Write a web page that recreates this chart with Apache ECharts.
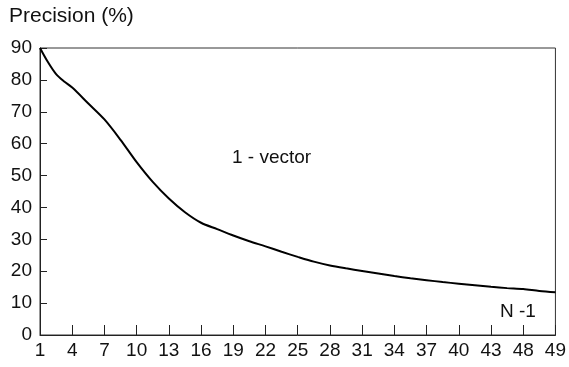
<!DOCTYPE html>
<html>
<head>
<meta charset="utf-8">
<script src="https://cdn.jsdelivr.net/npm/echarts@6/dist/echarts.min.js"></script>
<style>
  html, body { margin: 0; padding: 0; background: #fff; }
  #chart { width: 569px; height: 367px; }
</style>
</head>
<body>
<div id="chart"></div>
<script>
// x tick labels, one per equally spaced slot (as printed, incl. the "48")
const tickLabels = ['1', '4', '7', '10', '13', '16', '19', '22', '25', '28', '31', '34', '37', '40', '43', '48', '49'];

// curve sampled at half-slot positions (slot index along x axis)
const slotPos = [0, 0.25, 0.5, 0.75, 1, 1.5, 2, 2.5, 3, 3.5, 4, 4.5, 5, 5.5, 6, 6.5, 7, 7.5, 8, 8.5, 9, 9.5, 10, 10.5, 11, 11.5, 12, 12.5, 13, 13.5, 14, 14.5, 15, 15.5, 16];
const precision = [90, 85.5, 81.8, 79.5, 77.6, 72.6, 67.6, 61.2, 54.2, 48, 42.8, 38.5, 35.2, 33.2, 31.2, 29.4, 27.8, 26.1, 24.5, 23, 21.8, 20.9, 20.1, 19.3, 18.5, 17.8, 17.2, 16.6, 16.1, 15.6, 15.1, 14.7, 14.4, 13.8, 13.4];

const chart = echarts.init(document.getElementById('chart'));

chart.setOption({
    animation: false,
    textStyle: { fontFamily: 'Liberation Sans, Arial, sans-serif', color: '#111' },
    grid: {
        left: 40, right: 13, top: 48, bottom: 32,
        show: true, borderColor: '#333', borderWidth: 1
    },
    xAxis: {
        type: 'value',
        min: 0, max: 16, interval: 1,
        axisLine: { lineStyle: { color: '#222', width: 1 } },
        axisTick: { inside: true, length: 10, lineStyle: { color: '#222' } },
        axisLabel: {
            fontSize: 19, color: '#111', margin: 6,
            formatter: function(v) { return tickLabels[v]; }
        },
        splitLine: { show: false }
    },
    yAxis: {
        type: 'value',
        min: 0, max: 90, interval: 10,
        axisLine: { show: true, lineStyle: { color: '#222', width: 1 } },
        axisTick: { show: true, inside: true, length: 7, lineStyle: { color: '#222' } },
        axisLabel: { fontSize: 19, color: '#111', margin: 8 },
        splitLine: { show: false }
    },
    graphic: [
        { type: 'text', left: 9, top: 6, style: { text: 'Precision (%)', fontSize: 21, fill: '#111', fontFamily: 'Liberation Sans, Arial, sans-serif' } },
        { type: 'text', left: 232, top: 148, style: { text: '1 - vector', fontSize: 19, fill: '#111', fontFamily: 'Liberation Sans, Arial, sans-serif' } },
        { type: 'text', left: 500, top: 302, style: { text: 'N -1', fontSize: 19, fill: '#111', fontFamily: 'Liberation Sans, Arial, sans-serif' } }
    ],
    series: [{
        type: 'line',
        data: slotPos.map(function(p, i) { return [p, precision[i]]; }),
        smooth: 0.3,
        showSymbol: false,
        lineStyle: { color: '#000', width: 2 }
    }]
});
</script>
</body>
</html>
